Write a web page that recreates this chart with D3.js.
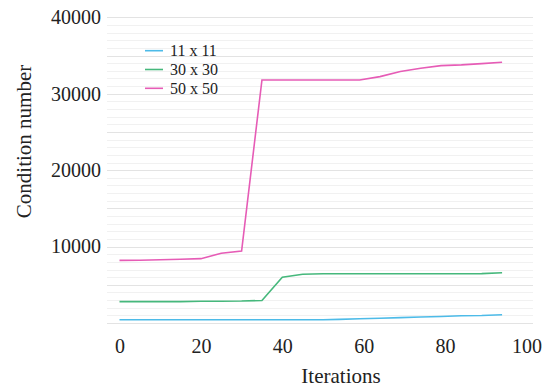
<!DOCTYPE html>
<html>
<head>
<meta charset="utf-8">
<script src="https://cdn.jsdelivr.net/npm/d3@7"></script>
<style>
  body { margin: 0; background: #fff; }
</style>
</head>
<body>
<div id="chart"></div>
<script>
// iteration numbers
const iterations = [0, 5, 10, 15, 20, 25, 30, 35, 40, 45, 50, 54, 59, 64, 69, 74, 79, 84, 89, 94];
const seriesNames = ['11 x 11', '30 x 30', '50 x 50'];
const values11 = [430, 430, 430, 430, 430, 430, 430, 430, 430, 430, 430, 480, 560, 630, 700, 780, 850, 940, 980, 1080];
const values30 = [2800, 2800, 2800, 2800, 2850, 2850, 2870, 2950, 5980, 6370, 6450, 6450, 6450, 6450, 6450, 6450, 6450, 6450, 6460, 6580];
const values50 = [8200, 8220, 8270, 8340, 8420, 9120, 9420, 31800, 31800, 31800, 31800, 31800, 31800, 32240, 32900, 33340, 33680, 33770, 33940, 34120];
const colors = ['#4dbbe8', '#46b87c', '#e65cb6'];
const xTicks = [0, 20, 40, 60, 80, 100];
const yTicks = [10000, 20000, 30000, 40000];

const FONT = 'Liberation Serif';
const width = 550, height = 392;
const svg = d3.select('#chart')
    .append('svg')
    .attr('width', width)
    .attr('height', height)
    .style('font-family', FONT);

const x = d3.scaleLinear()
    .domain([0, 100])
    .range([119.5, 526.5]);
const y = d3.scaleLinear()
    .domain([0, 40000])
    .range([323, 17.3]);

// grid: light every 1000, a bit darker every 5000
svg.append('g')
    .selectAll('line')
    .data(d3.range(0, 40001, 1000))
    .enter()
    .append('line')
    .attr('x1', 107).attr('x2', 533)
    .attr('y1', d => Math.round(y(d)) + 0.5)
    .attr('y2', d => Math.round(y(d)) + 0.5)
    .attr('stroke', d => d % 5000 === 0 ? '#e3e3e3' : '#f1f1f1')
    .attr('stroke-width', 1);

// Y axis labels
svg.append('g')
    .attr('transform', 'translate(101,0)')
    .call(d3.axisLeft(y).tickValues(yTicks).tickSize(0).tickPadding(0).tickFormat(d3.format('d')))
    .call(g => g.select('.domain').remove())
    .selectAll('text')
    .style('font-family', FONT)
    .style('font-size', '20px')
    .attr('fill', '#222');

// X axis labels
svg.append('g')
    .attr('transform', 'translate(0,339)')
    .call(d3.axisBottom(x).tickValues(xTicks).tickSize(0).tickPadding(0))
    .call(g => g.select('.domain').remove())
    .selectAll('text')
    .style('font-family', FONT)
    .style('font-size', '20px')
    .attr('fill', '#222');

// axis titles
svg.append('text')
    .attr('x', 341)
    .attr('y', 383)
    .attr('text-anchor', 'middle')
    .style('font-family', FONT)
    .style('font-size', '21px')
    .attr('fill', '#222')
    .text('Iterations');
svg.append('text')
    .attr('transform', 'translate(31,141.5) rotate(-90)')
    .attr('text-anchor', 'middle')
    .style('font-family', FONT)
    .style('font-size', '21px')
    .attr('fill', '#222')
    .text('Condition number');

// lines
const allSeries = [values11, values30, values50];
const line = d3.line()
    .x((d, i) => x(iterations[i]))
    .y(d => y(d));
svg.selectAll('path.series')
    .data(allSeries)
    .enter()
    .append('path')
    .attr('class', 'series')
    .attr('fill', 'none')
    .attr('stroke', (d, i) => colors[i])
    .attr('stroke-width', 1.6)
    .attr('d', line);

// legend
const item = svg.append('g')
    .attr('transform', 'translate(145,0)')
    .selectAll('g')
    .data(seriesNames)
    .enter()
    .append('g')
    .attr('transform', (d, i) => `translate(0,${50.7 + i * 18.8})`);
item.append('line')
    .attr('x1', 0).attr('x2', 18)
    .attr('stroke', (d, i) => colors[i])
    .attr('stroke-width', 1.6);
item.append('text')
    .attr('x', 25)
    .attr('dy', '0.35em')
    .style('font-family', FONT)
    .style('font-size', '16px')
    .attr('fill', '#222')
    .text(d => d);
</script>
</body>
</html>
